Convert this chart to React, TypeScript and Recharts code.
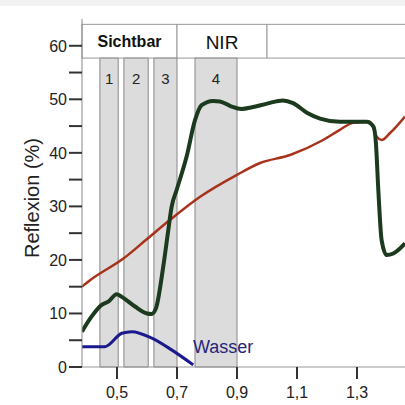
import { ComposedChart, Line, XAxis, YAxis, ReferenceArea, ReferenceDot } from 'recharts';

const FONT = '"Liberation Sans", Arial, sans-serif';

// Wellenlänge (µm) und Reflexion (%) je Oberfläche
const vegX = [0.383, 0.415, 0.449, 0.471, 0.499, 0.516, 0.56, 0.6, 0.615, 0.63, 0.654, 0.671, 0.682, 0.699, 0.732, 0.76, 0.782, 0.82, 0.843, 0.88, 0.915, 0.95, 1.0, 1.053, 1.087, 1.133, 1.177, 1.243, 1.332, 1.355, 1.363, 1.371, 1.382, 1.399, 1.421, 1.46];
const vegY = [6.6, 9.4, 11.6, 12.2, 13.6, 13.1, 11.3, 10.0, 9.9, 11.0, 18.7, 25.6, 29.9, 33.1, 39.3, 46.1, 48.9, 49.7, 49.6, 48.7, 48.2, 48.5, 49.2, 49.8, 49.3, 47.5, 46.4, 45.8, 45.8, 44.9, 41.8, 33.1, 23.7, 20.9, 21.2, 23.1];

const soilX = [0.383, 0.41, 0.52, 0.6, 0.677, 0.777, 0.9, 0.977, 1.077, 1.187, 1.243, 1.287, 1.343, 1.366, 1.382, 1.41, 1.46];
const soilY = [15.0, 16.2, 20.2, 23.9, 27.5, 31.8, 35.9, 38.1, 39.6, 42.4, 44.3, 45.6, 45.8, 43.0, 42.4, 43.7, 46.8];

const waterX = [0.383, 0.46, 0.516, 0.549, 0.616, 0.682, 0.754];
const waterY = [3.8, 3.8, 6.3, 6.6, 5.4, 3.2, 0.4];

// Kanäle
const bandNames = ['1', '2', '3', '4'];
const bandFrom = [0.443, 0.523, 0.623, 0.76];
const bandTo = [0.504, 0.604, 0.7, 0.9];

// Kopfzeile
const headerNames = ['Sichtbar', 'NIR', ''];
const headerFrom = [0.3833, 0.7, 1.0];
const headerTo = [0.7, 1.0, 1.4833];

const xTicks = [0.5, 0.7, 0.9, 1.1, 1.3];
const yTicks = [0, 5, 10, 15, 20, 25, 30, 35, 40, 45, 50, 55, 60];

const toPoints = (xs: number[], ys: number[]) => xs.map((x, i) => ({ x, y: ys[i] }));
const vegData = toPoints(vegX, vegY);
const soilData = toPoints(soilX, soilY);
const waterData = toPoints(waterX, waterY);

function YTick({ x, y, payload }: any) {
  if (payload.value % 10 !== 0) return <g />;
  return (
    <text x={x} y={y} dy="0.36em" textAnchor="end" fontSize={16} fill="#222" fontFamily={FONT}>
      {payload.value}
    </text>
  );
}

function BandLabel({ viewBox, text }: any) {
  return (
    <text x={viewBox.x + viewBox.width / 2} y={viewBox.y + 26} textAnchor="middle" fontSize={15} fill="#222" fontFamily={FONT}>
      {text}
    </text>
  );
}

function HeaderLabel({ viewBox, text }: any) {
  const bold = text === 'Sichtbar';
  return (
    <text
      x={viewBox.x + viewBox.width / 2}
      y={viewBox.y + viewBox.height / 2 + (bold ? 6 : 7.5)}
      textAnchor="middle"
      fontSize={bold ? 16 : 19}
      fontWeight={bold ? 'bold' : 'normal'}
      fill="#111"
      fontFamily={FONT}
    >
      {text}
    </text>
  );
}

function WaterLabel({ viewBox }: any) {
  return (
    <text x={viewBox.x} y={viewBox.y} fontSize={18} fill="#26267a" fontFamily={FONT}>
      Wasser
    </text>
  );
}

function YLabel({ viewBox }: any) {
  const cx = 32;
  const cy = viewBox.y + viewBox.height / 2 + 5;
  return (
    <text
      x={cx}
      y={cy}
      transform={`rotate(-90 ${cx} ${cy})`}
      textAnchor="middle"
      dominantBaseline="central"
      fontSize={20}
      fill="#222"
      fontFamily={FONT}
    >
      Reflexion (%)
    </text>
  );
}

export default function App() {
  return (
    <div style={{ position: 'absolute', left: 0, top: 0, width: 405, height: 405, overflow: 'hidden', background: '#fff' }}>
      <div style={{ position: 'absolute', left: 0, top: 0, width: 405, height: 6, background: '#f2f2f2' }} />
      <ComposedChart width={412} height={405} margin={{ top: 19, right: 0, bottom: 0, left: 0 }}>
        <XAxis
          type="number"
          dataKey="x"
          domain={[0.3833, 1.4833]}
          allowDataOverflow
          ticks={xTicks}
          interval={0}
          tickFormatter={(v: number) => String(v).replace('.', ',')}
          height={38}
          tickSize={12}
          tickMargin={8}
          axisLine={{ stroke: '#999' }}
          tickLine={{ stroke: '#333', strokeWidth: 2 }}
          tick={{ fill: '#222', fontSize: 16, fontFamily: FONT }}
        />
        <YAxis
          type="number"
          domain={[0, 65]}
          allowDataOverflow
          ticks={yTicks}
          interval={0}
          width={82}
          tickSize={13}
          tickMargin={2}
          axisLine={{ stroke: '#888' }}
          tickLine={{ stroke: '#333', strokeWidth: 2 }}
          tick={<YTick />}
          label={<YLabel />}
        />
        {headerNames.map((name, i) => (
          <ReferenceArea
            key={`h-${i}`}
            x1={headerFrom[i]}
            x2={headerTo[i]}
            y1={57.7}
            y2={64}
            fill="#fff"
            fillOpacity={1}
            stroke="#999"
            strokeWidth={1}
            label={<HeaderLabel text={name} />}
          />
        ))}
        {bandNames.map((name, i) => (
          <ReferenceArea
            key={`b-${i}`}
            x1={bandFrom[i]}
            x2={bandTo[i]}
            y1={0}
            y2={57.7}
            fill="#dcdcdc"
            fillOpacity={1}
            stroke="#888"
            strokeWidth={1}
            label={<BandLabel text={name} />}
          />
        ))}
        <Line data={soilData} dataKey="y" type="monotone" stroke="#a8321a" strokeWidth={2.5} dot={false} isAnimationActive={false} />
        <Line data={vegData} dataKey="y" type="monotone" stroke="#1c3a1e" strokeWidth={4} dot={false} isAnimationActive={false} />
        <Line data={waterData} dataKey="y" type="monotone" stroke="#1a1a8e" strokeWidth={3} dot={false} isAnimationActive={false} />
        <ReferenceDot x={0.753} y={2.6} r={0} fill="none" stroke="none" label={<WaterLabel />} />
      </ComposedChart>
    </div>
  );
}
